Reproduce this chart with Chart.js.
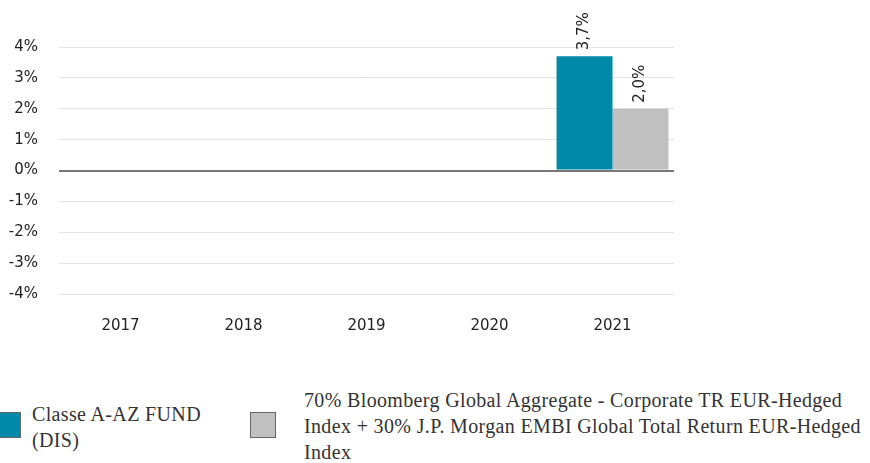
<!DOCTYPE html>
<html>
<head>
<script src="https://cdn.jsdelivr.net/npm/chart.js"></script>
<style>
  body { margin: 0; background: #fff; width: 870px; height: 463px; overflow: hidden; position: relative; }
  #wrap { position: absolute; left: 0; top: 0; width: 870px; height: 367px; }
  .leg { position: absolute; font-family: "Liberation Serif", serif; font-size: 20px; letter-spacing: 0.35px; color: #333; line-height: 26px; white-space: nowrap; }
  .box { position: absolute; width: 24px; height: 24px; border: 1px solid #666; }
</style>
</head>
<body>
<div id="wrap"><canvas id="chart"></canvas></div>
<div class="box" style="left:-5px; top:412px; background:#0089a8;"></div>
<div class="leg" style="left:32px; top:401px;">Classe A-AZ FUND<br>(DIS)</div>
<div class="box" style="left:250px; top:412px; background:#c0c0c0;"></div>
<div class="leg" style="left:304px; top:387px;">70% Bloomberg Global Aggregate - Corporate TR EUR-Hedged<br>Index + 30% J.P. Morgan EMBI Global Total Return EUR-Hedged<br>Index</div>

<script>
  var years = ["2017", "2018", "2019", "2020", "2021"];
  var fund = [null, null, null, null, 3.7];
  var benchmark = [null, null, null, null, 2.0];
  var fundName = "Classe A-AZ FUND (DIS)";
  var benchName = "70% Bloomberg Global Aggregate - Corporate TR EUR-Hedged Index + 30% J.P. Morgan EMBI Global Total Return EUR-Hedged Index";

  // rotated value labels above the bars
  var valueLabels = {
    id: "valueLabels",
    afterDatasetsDraw(chart) {
      var ctx = chart.ctx;
      chart.data.datasets.forEach(function (ds, i) {
        chart.getDatasetMeta(i).data.forEach(function (bar, j) {
          var v = ds.data[j];
          if (v === null) return;
          ctx.save();
          ctx.translate(bar.x, bar.y - 6);
          ctx.rotate(-Math.PI / 2);
          ctx.font = "15px 'DejaVu Sans'";
          ctx.fillStyle = "#222";
          ctx.textAlign = "left";
          ctx.textBaseline = "middle";
          ctx.fillText(v.toFixed(1).replace(".", ",") + "%", 0, 0);
          ctx.restore();
        });
      });
    }
  };

  new Chart(document.getElementById("chart"), {
    type: "bar",
    data: {
      labels: years,
      datasets: [
        { label: fundName, data: fund, backgroundColor: "#0089a8" },
        { label: benchName, data: benchmark, backgroundColor: "#c0c0c0" }
      ]
    },
    options: {
      responsive: true,
      maintainAspectRatio: false,
      animation: false,
      categoryPercentage: 0.91,
      barPercentage: 1,
      layout: { padding: { left: 3, right: 196, top: 47, bottom: 17 } },
      plugins: { legend: { display: false }, tooltip: { enabled: false } },
      scales: {
        x: {
          grid: { display: false },
          border: { display: false },
          ticks: { color: "#222", font: { family: "DejaVu Sans", size: 15 }, padding: 15 }
        },
        y: {
          min: -4,
          max: 4,
          border: { display: false },
          afterFit: function (s) { s.width = 56; },
          grid: {
            drawTicks: false,
            color: function (c) { return c.tick.value === 0 ? "#777" : "#e3e3e3"; },
            lineWidth: function (c) { return c.tick.value === 0 ? 2 : 1; }
          },
          ticks: {
            stepSize: 1,
            color: "#222",
            padding: 21,
            font: { family: "DejaVu Sans", size: 15 },
            callback: function (v) { return v + "%"; }
          }
        }
      }
    },
    plugins: [valueLabels]
  });
</script>
</body>
</html>
